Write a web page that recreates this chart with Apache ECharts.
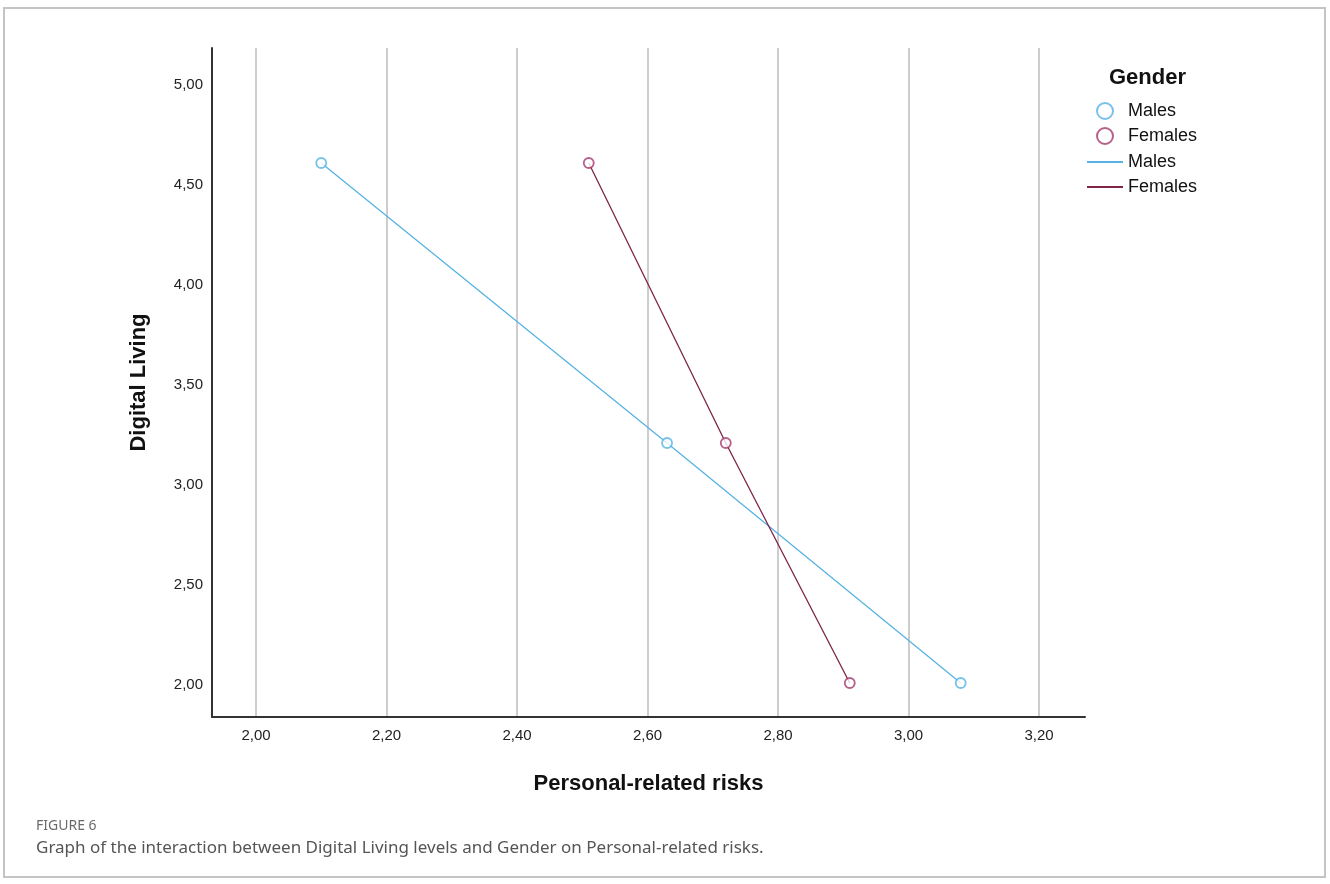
<!DOCTYPE html>
<html>
<head>
<meta charset="utf-8">
<style>
  html, body { margin: 0; padding: 0; background: #ffffff; }
  #chart { width: 1330px; height: 884px; }
</style>
<script src="https://cdn.jsdelivr.net/npm/echarts@6/dist/echarts.min.js"></script>
</head>
<body>
<div id="chart"></div>
<script>
// Estimated marginal means: Personal-related risks at three Digital Living levels
const digitalLiving = [4.61, 3.21, 2.01];
const malesRisk = [2.10, 2.63, 3.08];
const femalesRisk = [2.51, 2.72, 2.91];

// Axis tick labels
const xTicks = [2.00, 2.20, 2.40, 2.60, 2.80, 3.00, 3.20];
const yTicks = [2.00, 2.50, 3.00, 3.50, 4.00, 4.50, 5.00];

const maleColor = '#56b3e3';
const femaleMarker = '#a6386b';
const femaleLine = '#7e2548';

const pairs = (xs, ys) => xs.map((x, i) => [x, ys[i]]);
const fmt = v => Number(v).toFixed(2).replace('.', ',');

const chart = echarts.init(document.getElementById('chart'), null, { renderer: 'canvas' });

chart.setOption({
  backgroundColor: '#ffffff',
  animation: false,
  textStyle: { fontFamily: 'Liberation Sans, Arial, sans-serif' },
  grid: { left: 212, right: 245, top: 48, bottom: 167, containLabel: false },
  title: {
    text: 'Gender',
    left: 1104, top: 62,
    textStyle: { fontSize: 22, fontWeight: 'bold', color: '#111', fontFamily: 'Liberation Sans, Arial, sans-serif' }
  },
  legend: [
    {
      data: ['Males', 'Females'],
      orient: 'vertical',
      left: 1091, top: 96,
      icon: 'circle',
      itemWidth: 16, itemHeight: 16,
      itemGap: 5,
      itemStyle: { color: '#ffffff', borderWidth: 2 },
      textStyle: { fontSize: 18, color: '#111', lineHeight: 20, padding: [0, 0, 0, 10] },
      selectedMode: false
    },
    {
      data: ['Males line', 'Females line'],
      orient: 'vertical',
      left: 1082, top: 147,
      icon: 'rect',
      itemWidth: 36, itemHeight: 2,
      itemGap: 5,
      formatter: name => name.replace(' line', ''),
      textStyle: { fontSize: 18, color: '#111', lineHeight: 20 },
      selectedMode: false
    }
  ],
  xAxis: {
    type: 'value',
    min: 1.9326, max: 3.2705,
    name: 'Personal-related risks',
    nameLocation: 'middle',
    nameGap: 56,
    nameTextStyle: { fontSize: 22, fontWeight: 'bold', color: '#111' },
    axisLine: { show: true, lineStyle: { color: '#333', width: 2 } },
    axisTick: { show: false, customValues: xTicks },
    axisLabel: { customValues: xTicks, formatter: fmt, fontSize: 15, color: '#222', margin: 11 },
    splitLine: { show: true, lineStyle: { color: '#bcbcbc', width: 1.5 } }
  },
  yAxis: {
    type: 'value',
    min: 1.84, max: 5.185,
    name: 'Digital Living',
    nameLocation: 'middle',
    nameGap: 62,
    nameTextStyle: { fontSize: 22, fontWeight: 'bold', color: '#111' },
    axisLine: { show: true, onZero: false, lineStyle: { color: '#333', width: 2 } },
    axisTick: { show: false, customValues: yTicks },
    axisLabel: { customValues: yTicks, formatter: fmt, fontSize: 15, color: '#222', margin: 9 },
    splitLine: { show: false }
  },
  series: [
    {
      name: 'Males line', type: 'line',
      data: pairs(malesRisk, digitalLiving),
      showSymbol: false, symbol: 'none',
      itemStyle: { color: maleColor },
      lineStyle: { color: maleColor, width: 1.3 },
      z: 3
    },
    {
      name: 'Females line', type: 'line',
      data: pairs(femalesRisk, digitalLiving),
      showSymbol: false, symbol: 'none',
      itemStyle: { color: femaleLine },
      lineStyle: { color: femaleLine, width: 1.3 },
      z: 3
    },
    {
      name: 'Males', type: 'scatter',
      data: pairs(malesRisk, digitalLiving),
      symbol: 'circle', symbolSize: 10,
      itemStyle: { color: '#ffffff', borderColor: maleColor, borderWidth: 1.8 },
      z: 5
    },
    {
      name: 'Females', type: 'scatter',
      data: pairs(femalesRisk, digitalLiving),
      symbol: 'circle', symbolSize: 10,
      itemStyle: { color: '#ffffff', borderColor: femaleMarker, borderWidth: 1.8 },
      z: 5
    }
  ],
  graphic: [
    {
      type: 'rect', silent: true, z: -10,
      shape: { x: 4, y: 8, width: 1321, height: 869 },
      style: { fill: 'none', stroke: '#c4c4c4', lineWidth: 2 }
    },
    {
      type: 'text', left: 36, top: 819, silent: true,
      style: { text: 'FIGURE 6', fontSize: 14, fill: '#6a6a6a', fontFamily: 'Noto Sans, Open Sans, sans-serif' }
    },
    {
      type: 'text', left: 36, top: 840, silent: true,
      style: {
        text: 'Graph of the interaction between Digital Living levels and Gender on Personal-related risks.',
        fontSize: 17, fill: '#555555', fontFamily: 'Noto Sans, Open Sans, sans-serif'
      }
    }
  ]
});
</script>
</body>
</html>
